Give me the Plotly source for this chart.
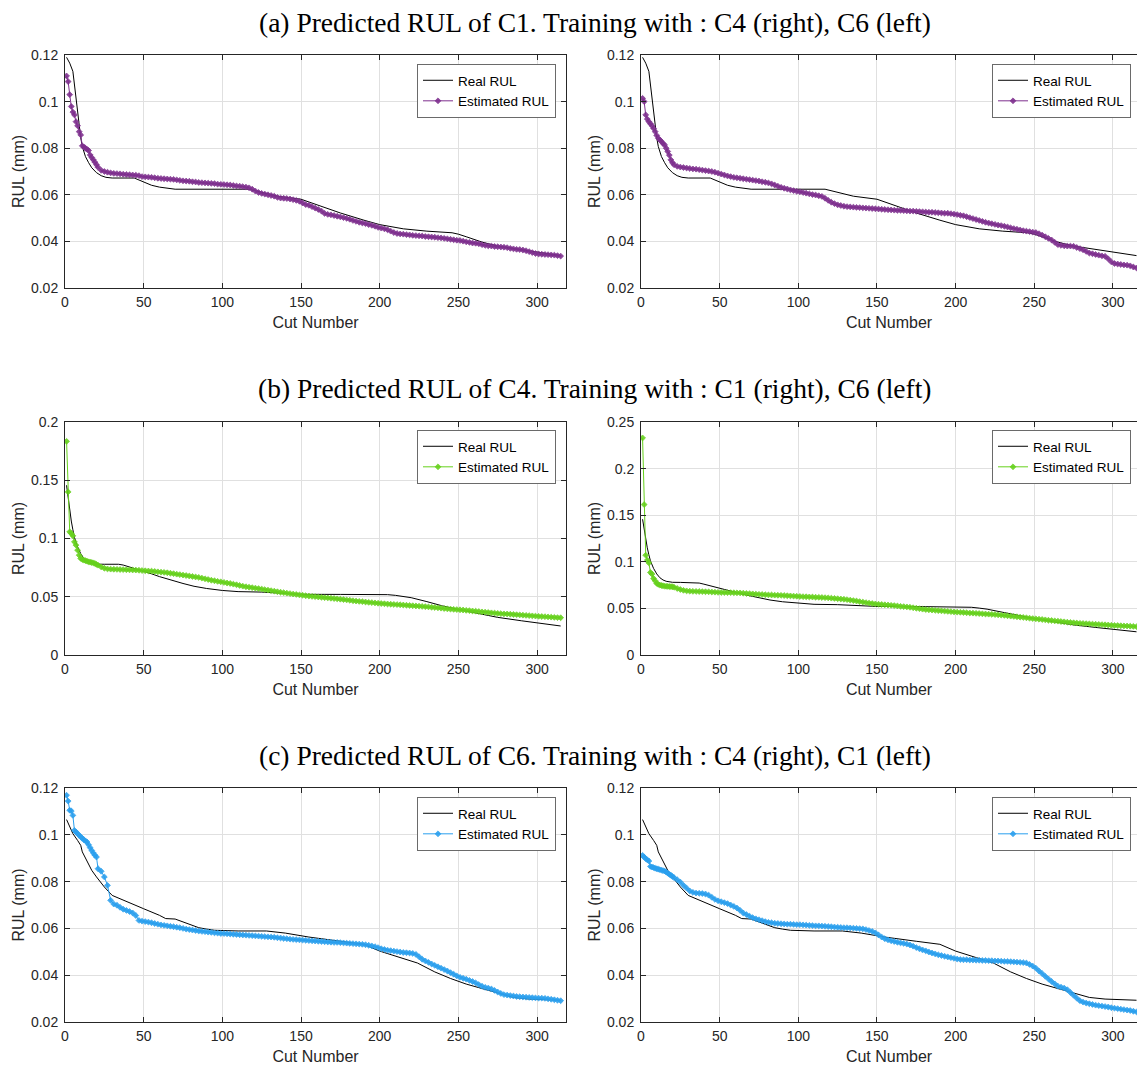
import plotly.graph_objects as go

# ---------------- data ----------------
# cut numbers at which the estimated RUL is read (every cut first, then every 2nd)
CUTS = list(range(1, 21)) + list(range(21, 316, 2))

# Real RUL curves (cut number, mm)
REAL_C1_X = [1, 3, 5, 6, 7, 8, 9, 10, 11, 12, 13, 15, 17, 20, 23, 26, 30, 44, 47, 50,
             55, 60, 65, 70, 117, 120, 125, 135, 150, 160, 175, 190, 200, 215, 230, 246, 250, 255, 265, 275,
             290, 300, 315]
REAL_C1_Y = [.1190, .1165, .1130, .1070, .1007, .0948, .0893, .0845, .0807, .0783, .0764, .0738, .0716, .0695,
             .0682, .0675, .0672, .0672, .0663, .0653, .0641, .0633, .0627, .0624, .0624, .0619, .0610, .0594,
             .0581, .0558, .0522, .0491, .0472, .0454, .0444, .0437, .0431, .0420, .0397, .0380, .0364, .0354,
             .0339]

REAL_C4_X = [1, 2, 3, 4, 5, 6, 8, 10, 12, 14, 16, 18, 20, 25, 34, 37, 40, 45, 50, 55,
             60, 67, 75, 82, 90, 100, 110, 125, 140, 150, 175, 200, 205, 210, 215, 220, 230, 240, 250, 260,
             275, 290, 305, 315]
REAL_C4_Y = [.1457, .1340, .1243, .1150, .1075, .1010, .0929, .0870, .0829, .0805, .0791, .0784, .0780, .0779,
             .0779, .0772, .0760, .0740, .0720, .0697, .0673, .0643, .0614, .0590, .0571, .0554, .0544, .0540,
             .0530, .0521, .0520, .0520, .0518, .0512, .0503, .0492, .0458, .0421, .0391, .0363, .0323, .0294,
             .0266, .0249]

REAL_C6_X = [1, 3, 5, 8, 10, 11, 14, 17, 20, 25, 30, 35, 40, 50, 60, 64, 70, 75, 80, 85,
             90, 95, 110, 128, 140, 155, 175, 190, 200, 212, 224, 235, 245, 255, 265, 275, 285, 295, 305, 315]
REAL_C6_Y = [.1065, .1033, .1005, .0976, .0955, .0927, .0884, .0848, .0820, .0777, .0741, .0726, .0713, .0684,
             .0656, .0642, .0640, .0627, .0614, .0603, .0597, .0592, .0589, .0589, .0580, .0563, .0545, .0532,
             .0503, .0478, .0452, .0414, .0386, .0362, .0343, .0325, .0305, .0298, .0296, .0293]

# Estimated RUL, values at CUTS
EST_C1_TRAIN_C6 = [
    .1110, .1086, .1030, .0979, .0955, .0943, .0914, .0896, .0871, .0857,
    .0810, .0805, .0800, .0795, .0790, .0771, .0760, .0750, .0740, .0729,
    .0718, .0705, .0700, .0697, .0694, .0692, .0691, .0690, .0688, .0687,
    .0686, .0685, .0684, .0682, .0678, .0677, .0676, .0675, .0673, .0671,
    .0670, .0669, .0668, .0667, .0666, .0664, .0662, .0660, .0659, .0658,
    .0656, .0655, .0653, .0652, .0651, .0650, .0649, .0648, .0646, .0645,
    .0644, .0643, .0642, .0640, .0638, .0637, .0635, .0633, .0630, .0624,
    .0616, .0610, .0606, .0603, .0600, .0597, .0594, .0589, .0586, .0585,
    .0584, .0582, .0579, .0576, .0572, .0565, .0558, .0555, .0549, .0543,
    .0537, .0530, .0520, .0516, .0514, .0511, .0508, .0505, .0502, .0499,
    .0495, .0490, .0486, .0482, .0479, .0476, .0472, .0469, .0465, .0460,
    .0457, .0454, .0450, .0444, .0438, .0434, .0432, .0431, .0429, .0428,
    .0426, .0425, .0424, .0423, .0421, .0420, .0419, .0418, .0416, .0415,
    .0413, .0411, .0409, .0407, .0405, .0404, .0401, .0398, .0396, .0393,
    .0392, .0390, .0386, .0383, .0381, .0380, .0378, .0377, .0376, .0375,
    .0373, .0370, .0368, .0366, .0365, .0363, .0360, .0356, .0352, .0348,
    .0346, .0345, .0344, .0343, .0342, .0341, .0339, .0337]

EST_C1_TRAIN_C4 = [
    .1014, .1000, .0943, .0925, .0914, .0905, .0896, .0885, .0871, .0855,
    .0843, .0835, .0829, .0820, .0814, .0800, .0786, .0770, .0750, .0738,
    .0729, .0722, .0719, .0717, .0715, .0713, .0711, .0710, .0708, .0706,
    .0704, .0702, .0700, .0697, .0693, .0689, .0685, .0681, .0678, .0675,
    .0673, .0671, .0669, .0667, .0665, .0663, .0661, .0659, .0656, .0654,
    .0651, .0647, .0642, .0637, .0632, .0628, .0625, .0621, .0618, .0615,
    .0613, .0610, .0607, .0604, .0601, .0599, .0596, .0593, .0585, .0576,
    .0568, .0562, .0557, .0554, .0551, .0549, .0548, .0547, .0546, .0545,
    .0544, .0543, .0542, .0541, .0540, .0539, .0538, .0537, .0536, .0535,
    .0534, .0533, .0533, .0532, .0531, .0530, .0530, .0529, .0528, .0527,
    .0526, .0525, .0525, .0524, .0523, .0522, .0521, .0521, .0519, .0517,
    .0515, .0512, .0510, .0506, .0502, .0498, .0494, .0490, .0486, .0482,
    .0479, .0476, .0473, .0470, .0468, .0465, .0462, .0458, .0455, .0452,
    .0449, .0446, .0444, .0442, .0440, .0438, .0433, .0427, .0420, .0413,
    .0406, .0396, .0386, .0383, .0381, .0380, .0380, .0379, .0374, .0369,
    .0364, .0357, .0350, .0347, .0344, .0341, .0338, .0336, .0325, .0312,
    .0305, .0303, .0301, .0299, .0298, .0295, .0290, .0286]

EST_C4_TRAIN_C6 = [
    .1834, .1400, .1057, .1043, .1023, .0971, .0943, .0900, .0857, .0829,
    .0820, .0814, .0810, .0805, .0800, .0797, .0794, .0791, .0785, .0778,
    .0771, .0756, .0745, .0739, .0737, .0736, .0735, .0734, .0733, .0732,
    .0731, .0730, .0729, .0727, .0725, .0723, .0721, .0720, .0717, .0714,
    .0711, .0709, .0706, .0702, .0698, .0694, .0690, .0686, .0682, .0678,
    .0674, .0670, .0666, .0660, .0654, .0648, .0642, .0637, .0632, .0628,
    .0623, .0618, .0614, .0608, .0603, .0597, .0591, .0586, .0582, .0578,
    .0574, .0570, .0566, .0561, .0557, .0552, .0548, .0543, .0539, .0535,
    .0531, .0527, .0523, .0520, .0516, .0513, .0509, .0506, .0503, .0501,
    .0498, .0495, .0492, .0490, .0487, .0485, .0482, .0479, .0476, .0473,
    .0470, .0466, .0463, .0460, .0458, .0455, .0452, .0450, .0447, .0444,
    .0442, .0440, .0438, .0436, .0434, .0433, .0431, .0429, .0427, .0425,
    .0423, .0421, .0419, .0417, .0415, .0413, .0410, .0408, .0405, .0402,
    .0399, .0396, .0394, .0392, .0390, .0388, .0386, .0383, .0381, .0378,
    .0376, .0373, .0370, .0368, .0365, .0362, .0360, .0357, .0355, .0353,
    .0352, .0350, .0348, .0346, .0344, .0342, .0340, .0338, .0336, .0334,
    .0332, .0330, .0329, .0327, .0325, .0323, .0321, .0320]

EST_C4_TRAIN_C1 = [
    .2329, .1614, .1071, .1018, .0989, .0886, .0868, .0821, .0796, .0768,
    .0758, .0750, .0746, .0743, .0739, .0737, .0736, .0735, .0734, .0732,
    .0727, .0714, .0703, .0694, .0688, .0685, .0683, .0682, .0681, .0680,
    .0679, .0678, .0676, .0674, .0672, .0671, .0670, .0669, .0669, .0668,
    .0667, .0666, .0663, .0660, .0658, .0656, .0653, .0651, .0649, .0647,
    .0645, .0644, .0642, .0641, .0640, .0638, .0636, .0634, .0632, .0630,
    .0628, .0626, .0625, .0623, .0622, .0620, .0619, .0617, .0615, .0613,
    .0610, .0607, .0604, .0601, .0598, .0594, .0589, .0584, .0579, .0573,
    .0568, .0562, .0557, .0552, .0548, .0545, .0542, .0539, .0536, .0533,
    .0530, .0526, .0522, .0519, .0516, .0512, .0507, .0502, .0497, .0492,
    .0488, .0485, .0482, .0479, .0476, .0474, .0471, .0468, .0465, .0462,
    .0460, .0458, .0456, .0453, .0451, .0449, .0447, .0445, .0442, .0440,
    .0438, .0436, .0434, .0431, .0428, .0425, .0421, .0417, .0414, .0410,
    .0406, .0403, .0399, .0395, .0391, .0388, .0384, .0381, .0377, .0373,
    .0370, .0366, .0363, .0359, .0356, .0352, .0349, .0346, .0343, .0340,
    .0338, .0336, .0334, .0332, .0330, .0328, .0326, .0324, .0322, .0319,
    .0317, .0316, .0314, .0312, .0311, .0309, .0307, .0304]

EST_C6_TRAIN_C1 = [
    .1169, .1144, .1105, .1102, .1083, .1019, .1012, .1005, .0998, .0991,
    .0985, .0979, .0974, .0969, .0957, .0945, .0933, .0922, .0913, .0905,
    .0855, .0844, .0820, .0784, .0720, .0704, .0699, .0690, .0682, .0677,
    .0672, .0666, .0655, .0634, .0631, .0629, .0627, .0624, .0621, .0618,
    .0615, .0613, .0611, .0609, .0607, .0605, .0603, .0600, .0597, .0595,
    .0593, .0591, .0589, .0587, .0586, .0584, .0583, .0581, .0580, .0578,
    .0578, .0577, .0576, .0575, .0574, .0573, .0572, .0571, .0570, .0569,
    .0568, .0567, .0566, .0565, .0564, .0563, .0562, .0560, .0559, .0557,
    .0556, .0554, .0553, .0552, .0551, .0550, .0549, .0548, .0547, .0546,
    .0545, .0544, .0543, .0542, .0541, .0540, .0540, .0539, .0538, .0537,
    .0536, .0535, .0534, .0533, .0532, .0530, .0528, .0525, .0522, .0518,
    .0513, .0510, .0507, .0505, .0503, .0501, .0499, .0497, .0496, .0495,
    .0493, .0489, .0479, .0468, .0461, .0455, .0448, .0442, .0436, .0430,
    .0424, .0418, .0411, .0404, .0397, .0391, .0387, .0383, .0378, .0373,
    .0367, .0360, .0353, .0348, .0345, .0341, .0335, .0328, .0322, .0317,
    .0315, .0313, .0311, .0309, .0308, .0307, .0306, .0305, .0304, .0303,
    .0302, .0302, .0301, .0299, .0297, .0295, .0293, .0291]

EST_C6_TRAIN_C4 = [
    .0912, .0905, .0898, .0893, .0888, .0865, .0862, .0860, .0857, .0855,
    .0853, .0851, .0849, .0847, .0845, .0841, .0836, .0831, .0827, .0822,
    .0817, .0808, .0798, .0784, .0772, .0760, .0754, .0751, .0750, .0749,
    .0747, .0742, .0733, .0724, .0718, .0714, .0710, .0706, .0700, .0694,
    .0687, .0677, .0666, .0659, .0652, .0646, .0641, .0637, .0633, .0629,
    .0626, .0624, .0622, .0621, .0620, .0619, .0618, .0618, .0617, .0616,
    .0616, .0615, .0614, .0613, .0612, .0611, .0611, .0610, .0609, .0608,
    .0607, .0606, .0605, .0604, .0603, .0603, .0602, .0601, .0600, .0599,
    .0598, .0595, .0591, .0587, .0581, .0572, .0563, .0556, .0551, .0547,
    .0544, .0541, .0538, .0536, .0533, .0529, .0524, .0518, .0513, .0508,
    .0504, .0499, .0495, .0491, .0487, .0484, .0481, .0478, .0475, .0472,
    .0469, .0467, .0466, .0466, .0465, .0465, .0464, .0464, .0463, .0463,
    .0462, .0462, .0461, .0461, .0460, .0459, .0459, .0458, .0457, .0456,
    .0455, .0454, .0452, .0446, .0439, .0430, .0418, .0407, .0395, .0384,
    .0373, .0363, .0353, .0349, .0345, .0338, .0326, .0314, .0302, .0291,
    .0285, .0281, .0278, .0275, .0272, .0270, .0268, .0266, .0264, .0261,
    .0259, .0257, .0255, .0253, .0251, .0249, .0246, .0243]

for s in (EST_C1_TRAIN_C6, EST_C1_TRAIN_C4, EST_C4_TRAIN_C6,
          EST_C4_TRAIN_C1, EST_C6_TRAIN_C1, EST_C6_TRAIN_C4):
    assert len(s) == len(CUTS), len(s)

TITLES = [
    "(a) Predicted RUL of C1. Training with : C4 (right), C6 (left)",
    "(b) Predicted RUL of C4. Training with : C1 (right), C6 (left)",
    "(c) Predicted RUL of C6. Training with : C4 (right), C1 (left)",
]
X_TICKS = [0, 50, 100, 150, 200, 250, 300]

# ---------------- styling / layout ----------------
W, H = 1137, 1067
PURPLE = "#7E2F8E"
GREEN = "#66D11C"
BLUE = "#2A9FEE"
AXC = "#262626"
GRID = "#e0e0e0"
SANS = "Liberation Sans, Arial, sans-serif"
SERIF = "Liberation Serif, Times New Roman, serif"

# panel: (real x, real y, est y, color, y range, y dtick, row, col)
panels = [
    (REAL_C1_X, REAL_C1_Y, EST_C1_TRAIN_C6, PURPLE, [0.02, 0.12], 0.02, 0, 0),
    (REAL_C1_X, REAL_C1_Y, EST_C1_TRAIN_C4, PURPLE, [0.02, 0.12], 0.02, 0, 1),
    (REAL_C4_X, REAL_C4_Y, EST_C4_TRAIN_C6, GREEN, [0, 0.2], 0.05, 1, 0),
    (REAL_C4_X, REAL_C4_Y, EST_C4_TRAIN_C1, GREEN, [0, 0.25], 0.05, 1, 1),
    (REAL_C6_X, REAL_C6_Y, EST_C6_TRAIN_C1, BLUE, [0.02, 0.12], 0.02, 2, 0),
    (REAL_C6_X, REAL_C6_Y, EST_C6_TRAIN_C4, BLUE, [0.02, 0.12], 0.02, 2, 1),
]

col_px = [(65, 566), (641, 1137)]
col_range = [[0, 318.4], [0, 315.3]]
row_px = [(55, 288), (422, 655), (788, 1022)]
title_px = [22, 388, 755]
legend_top_px = [64, 430, 797]
legend_right_px = [556, 1131]

fig = go.Figure()
layout = dict(
    width=W, height=H, margin=dict(l=0, r=0, t=0, b=0),
    paper_bgcolor="white", plot_bgcolor="white",
    font=dict(family=SANS, size=14, color=AXC),
    annotations=[],
)

for i, (rx, ry, est, color, yr, dt, row, col) in enumerate(panels):
    n = i + 1
    xa = "x" if n == 1 else f"x{n}"
    ya = "y" if n == 1 else f"y{n}"
    lg = "legend" if n == 1 else f"legend{n}"
    fig.add_trace(go.Scatter(
        x=rx, y=ry, xaxis=xa, yaxis=ya, mode="lines", name="Real RUL",
        line=dict(color="black", width=1), legend=lg, showlegend=True))
    fig.add_trace(go.Scatter(
        x=CUTS, y=est, xaxis=xa, yaxis=ya, mode="lines+markers", name="Estimated RUL",
        line=dict(color=color, width=1),
        marker=dict(symbol="diamond", size=4.5, color=color, opacity=0.9,
                    line=dict(width=0.8, color=color)),
        legend=lg, showlegend=True))

    x0, x1 = col_px[col]
    y0, y1 = row_px[row]
    common = dict(showline=True, linecolor=AXC, linewidth=1, ticks="inside", ticklen=5,
                  tickcolor=AXC, showgrid=True, gridcolor=GRID, gridwidth=1, zeroline=False,
                  tickfont=dict(family=SANS, size=14, color=AXC), automargin=False)
    layout["xaxis" if n == 1 else f"xaxis{n}"] = dict(
        common, domain=[x0 / W, x1 / W], range=col_range[col], anchor=ya,
        tickvals=X_TICKS, mirror="ticks", ticklabelstandoff=1,
        title=dict(text="Cut Number", font=dict(family=SANS, size=16, color=AXC), standoff=8))
    layout["yaxis" if n == 1 else f"yaxis{n}"] = dict(
        common, domain=[1 - y1 / H, 1 - y0 / H], range=yr, dtick=dt, tick0=0, anchor=xa,
        mirror=("ticks" if col == 0 else False), ticklabelstandoff=3,
        title=dict(text="RUL (mm)", font=dict(family=SANS, size=16, color=AXC), standoff=2))
    layout[lg] = dict(
        x=legend_right_px[col] / W, xanchor="right", y=1 - legend_top_px[row] / H, yanchor="top",
        bgcolor="white", bordercolor="#6a6a6a", borderwidth=1,
        font=dict(family=SANS, size=13.5, color="black"), tracegroupgap=0)

for r, t in enumerate(TITLES):
    layout["annotations"].append(dict(
        text=t, x=594.5 / W, y=1 - title_px[r] / H, xref="paper", yref="paper",
        xanchor="center", yanchor="middle", showarrow=False,
        font=dict(family=SERIF, size=27.5, color="black")))

fig.update_layout(**layout)
fig.write_html("out.html")
